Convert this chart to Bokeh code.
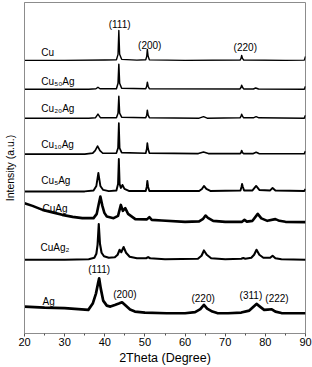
from bokeh.plotting import figure
from bokeh.models import ColumnDataSource, FixedTicker
from bokeh.core.properties import value
from bokeh.embed import file_html
from bokeh.resources import INLINE

# ---------------- data (2Theta in degrees, intensity in a.u., stacked offsets included) ----------------
cu_x = [20, 30, 40, 42.9, 43.3, 43.5, 43.7, 44.2, 48, 50.2, 50.45, 50.6, 50.8, 51.1, 60,
        73.7, 73.95, 74.1, 74.3, 74.6, 85, 89.7, 90]
cu_y = [274, 274, 274.3, 274.6, 280, 304, 280, 275, 274.2, 274.6, 278, 285, 278, 274.5, 274,
        274.3, 276, 279, 276, 274.3, 274, 274.2, 278]

cu50ag_x = [20, 36, 37.8, 38.3, 38.8, 42.9, 43.3, 43.5, 43.7, 44.2, 50.2, 50.45, 50.6, 50.8, 51.1,
            73.7, 73.95, 74.1, 74.3, 74.6, 77, 77.6, 78.3, 89.7, 90]
cu50ag_y = [245, 245, 245.5, 247, 245.5, 245.5, 251, 270, 251, 246, 245.5, 248, 252, 248, 245.5,
            245.3, 247, 249, 247, 245.3, 245.3, 246.3, 245.3, 245, 248]

cu20ag_x = [20, 36, 37.7, 38.3, 38.9, 42.9, 43.3, 43.5, 43.7, 44.2, 50.2, 50.45, 50.6, 50.8, 51.1,
            63.5, 64.6, 65.5, 73.7, 73.95, 74.1, 74.3, 74.6, 77, 77.7, 78.4, 89.7, 90]
cu20ag_y = [216, 216, 216.5, 220, 216.5, 216.5, 221, 238, 221, 217, 216.5, 219, 224, 219, 216.5,
            216, 217.5, 216, 216.3, 218, 220, 218, 216.3, 216.3, 217.5, 216.3, 216, 219]

cu10ag_x = [20, 35, 37.0, 37.6, 38.2, 38.8, 39.5, 42.9, 43.3, 43.5, 43.7, 44.2, 50.2, 50.45, 50.6,
            50.8, 51.1, 63.3, 64.6, 65.8, 73.7, 73.95, 74.1, 74.3, 74.6, 77, 77.7, 78.4, 89.7, 90]
cu10ag_y = [180, 180, 181, 183.5, 188, 183.5, 180.8, 181, 186, 211, 186, 181.5, 180.8, 185, 191,
            185, 181, 180.5, 182, 180.5, 180.5, 181.5, 183.5, 181.5, 180.5, 180.5, 181.8, 180.5, 180.3, 183]

cu5ag_x = [20, 35, 37.2, 37.9, 38.4, 38.9, 39.6, 41, 42.9, 43.3, 43.5, 43.7, 44.0, 44.4, 44.9, 46,
           50.2, 50.45, 50.6, 50.8, 51.1, 63.5, 64.2, 64.7, 65.3, 66.3, 73.8, 74.05, 74.2, 74.4, 74.7,
           76.8, 77.7, 78.5, 81.2, 81.8, 82.5, 89.7, 90]
cu5ag_y = [142.5, 142.5, 143.5, 148, 161, 148, 144, 142.8, 143.5, 150, 175, 150, 146, 149, 145, 143,
           143, 147, 153, 147, 143, 143, 145, 148, 145, 143, 143.5, 147, 150, 147, 143.5,
           143.5, 148, 144, 143.5, 146, 143.5, 143, 145]

cuag_x = [20, 22, 24.5, 27, 29.4, 32, 34.4, 37.2, 38.0, 38.5, 38.9, 39.4, 39.9, 40.5, 42.2, 43.3,
          44.0, 44.5, 45.1, 45.8, 47.6, 50.5, 51.1, 51.7, 54.2, 60, 63.5, 64.5, 65.1, 65.7, 67, 70,
          74.2, 74.8, 75.4, 76.8, 78.1, 79, 80.5, 82.5, 83.5, 85, 90]
cuag_y = [130.7, 128, 124, 121.5, 119, 117, 115.7, 115.7, 120, 130, 137.3, 128, 121, 117.3, 115.7, 118,
          129, 123, 125.7, 120, 114.7, 114.5, 116.7, 114, 113.3, 112, 112.5, 115, 118.3, 116, 113, 112,
          112, 114, 112.2, 113, 120, 115.5, 113, 114.7, 113, 112, 111.7]

cuag2_x = [20, 30, 36, 37.4, 37.9, 38.2, 38.5, 38.8, 39.2, 39.8, 41, 42.5, 43.2, 43.7, 44.1, 44.7,
           45.3, 46.2, 48, 50.3, 50.8, 51.3, 55, 63.2, 64.1, 64.7, 65.4, 66.5, 70, 74, 74.5, 75,
           76.5, 77.2, 77.8, 78.5, 79.5, 81.2, 81.8, 82.5, 84, 90]
cuag2_y = [74, 74, 74.5, 76, 80, 89, 109.7, 90, 81, 77.5, 76, 76.5, 79, 84, 81.5, 86.7,
           81, 77, 75.5, 75.5, 76.7, 75.5, 74.5, 75, 78, 83.3, 79, 75.5, 74.5, 75, 75.8, 75,
           76, 79, 84, 79, 76, 76, 78, 75.5, 74.5, 74]

ag_x = [20, 25, 30, 35.9, 37, 37.8, 38.3, 38.6, 39.0, 39.6, 40.5, 41.4, 42.5, 43.5, 44.3, 45.2,
        46.3, 47.5, 50, 55.4, 60, 62.5, 63.8, 64.7, 65.5, 66.8, 68, 70.7, 74, 76, 77.8, 78.8,
        79.7, 80.6, 81.6, 82.5, 84, 90]
ag_y = [27, 26, 25.5, 23.7, 30, 40, 50, 55.3, 45, 33, 28, 27, 28.5, 30, 31.3, 28,
        24, 22, 21, 20.3, 20.3, 21.5, 24.5, 28.7, 25, 22, 20.5, 20.3, 21, 23, 29.7, 26.5,
        23.7, 24, 24.3, 22, 20.5, 20.3]

series_x = [cu_x, cu50ag_x, cu20ag_x, cu10ag_x, cu5ag_x, cuag_x, cuag2_x, ag_x]
series_y = [cu_y, cu50ag_y, cu20ag_y, cu10ag_y, cu5ag_y, cuag_y, cuag2_y, ag_y]
series_width = [1.4, 1.5, 1.5, 1.7, 1.9, 2.6, 2.1, 2.7]

sample_names = ["Cu", "Cu\u2085\u2080Ag", "Cu\u2082\u2080Ag", "Cu\u2081\u2080Ag", "Cu\u2085Ag",
                "CuAg", "CuAg\u2082", "Ag"]
sample_label_x = [24.2, 24.2, 24.2, 24.2, 24.2, 24.5, 24.0, 24.5]
sample_label_y = [282, 253, 226, 190, 153, 125, 86, 32]

peak_names = ["(111)", "(200)", "(220)", "(111)", "(200)", "(220)", "(311)", "(222)"]
peak_label_x = [43.7, 51.2, 75.0, 38.6, 45.0, 64.5, 76.4, 82.9]
peak_label_y = [310, 289, 287, 64, 39, 35.3, 37.7, 34.7]

x_ticks = [20, 30, 40, 50, 60, 70, 80, 90]
x_minor = [25, 35, 45, 55, 65, 75, 85]

# ---------------- figure ----------------
FONT = "Liberation Sans"
p = figure(width=312, height=367, x_range=(20, 90), y_range=(0, 332),
           output_backend="svg", toolbar_location=None,
           min_border_left=22, min_border_right=7, min_border_top=2, min_border_bottom=33)
p.background_fill_color = "white"
p.border_fill_color = "white"
p.outline_line_color = "#8c8c8c"
p.outline_line_width = 1
p.xgrid.visible = False
p.ygrid.visible = False

for xs, ys, w in zip(series_x, series_y, series_width):
    p.line(xs, ys, line_color="black", line_width=w, line_join="round")

src_s = ColumnDataSource(dict(x=sample_label_x, y=sample_label_y, t=sample_names))
p.text("x", "y", text="t", source=src_s, text_font=value(FONT), text_font_size="10px",
       text_align="left", text_baseline="middle", text_color="black")
src_p = ColumnDataSource(dict(x=peak_label_x, y=peak_label_y, t=peak_names))
p.text("x", "y", text="t", source=src_p, text_font=value(FONT), text_font_size="10px",
       text_align="center", text_baseline="middle", text_color="black")

xa = p.xaxis[0]
xa.ticker = FixedTicker(ticks=x_ticks, minor_ticks=x_minor)
xa.axis_line_color = "#8c8c8c"
xa.major_tick_line_color = "#555555"
xa.minor_tick_line_color = "#555555"
xa.major_tick_in = 0
xa.major_tick_out = 3
xa.minor_tick_in = 0
xa.minor_tick_out = 2
xa.major_label_standoff = 1
xa.major_label_text_font = FONT
xa.major_label_text_font_size = "11px"
xa.major_label_text_color = "black"
xa.axis_label = "2Theta (Degree)"
xa.axis_label_text_font = FONT
xa.axis_label_text_font_size = "12.5px"
xa.axis_label_text_font_style = "normal"
xa.axis_label_text_color = "black"
xa.axis_label_standoff = 2

ya = p.yaxis[0]
ya.ticker = FixedTicker(ticks=[])
ya.axis_line_color = "#8c8c8c"
ya.major_tick_in = 0
ya.major_tick_out = 0
ya.minor_tick_in = 0
ya.minor_tick_out = 0
ya.major_label_standoff = 0
ya.axis_label = "Intensity (a.u.)"
ya.axis_label_text_font = FONT
ya.axis_label_text_font_size = "10.5px"
ya.axis_label_text_font_style = "normal"
ya.axis_label_text_color = "black"
ya.axis_label_standoff = 9

open("out.html", "w").write(file_html(p, INLINE))
